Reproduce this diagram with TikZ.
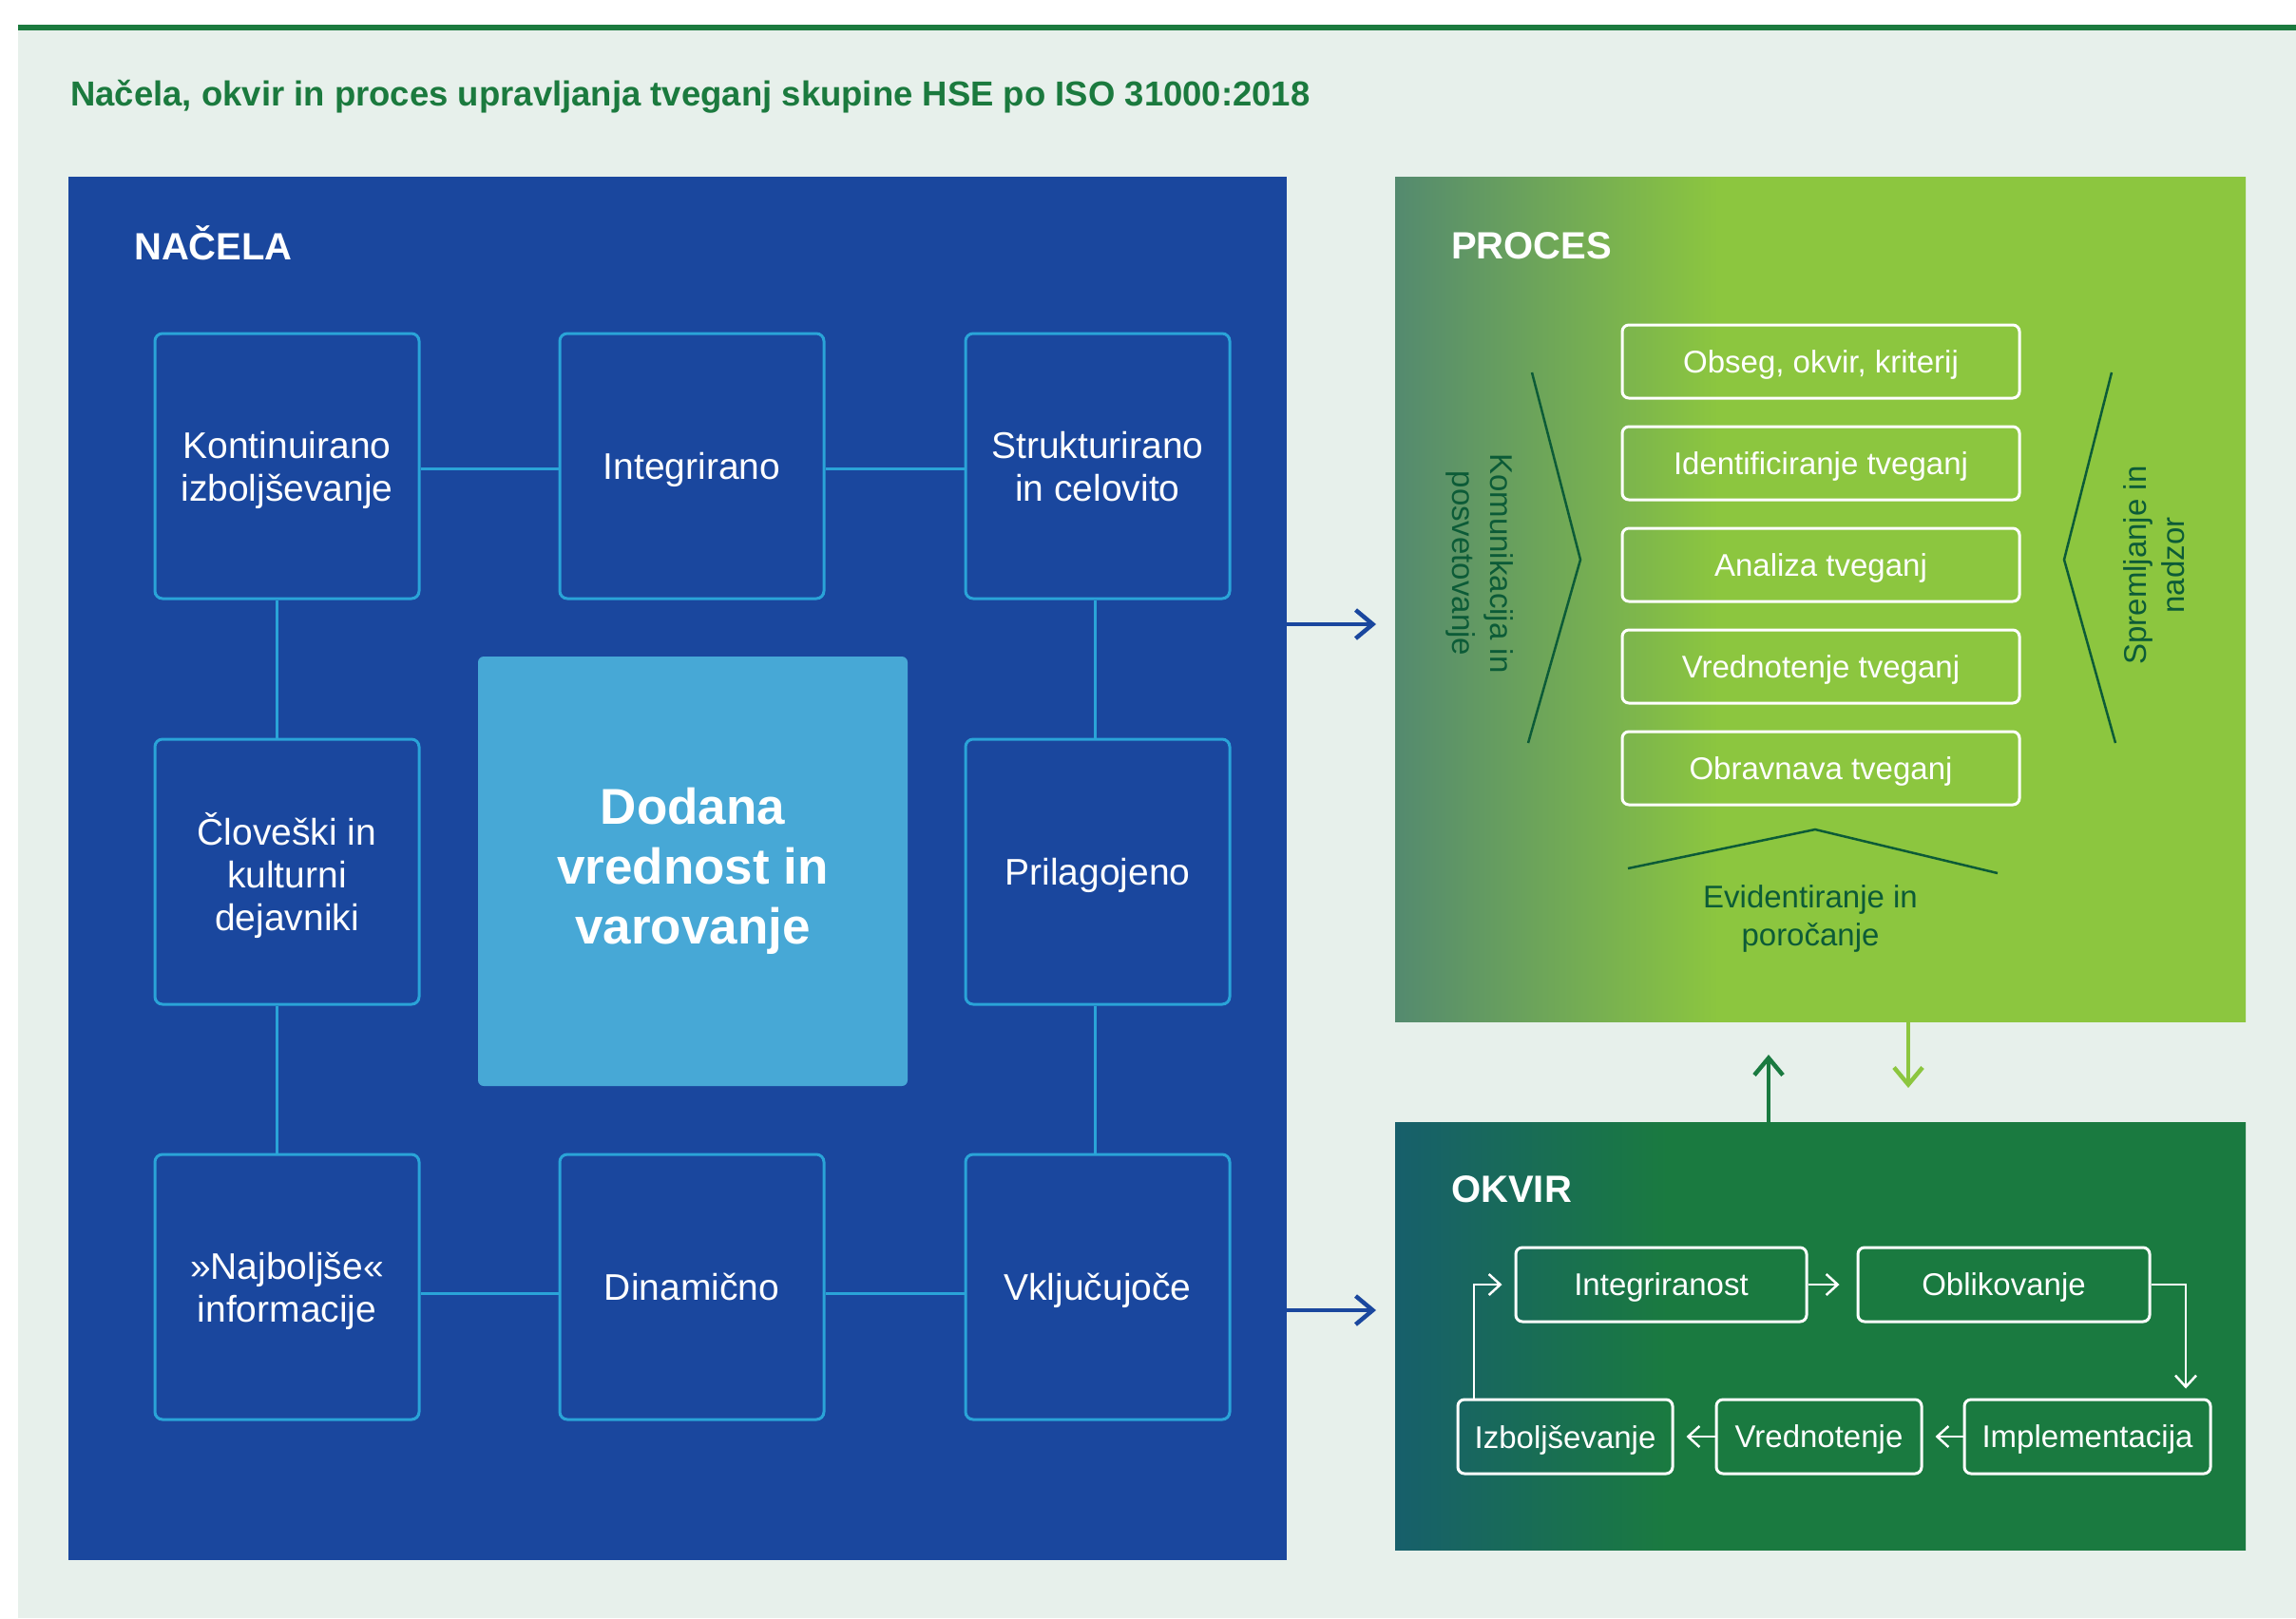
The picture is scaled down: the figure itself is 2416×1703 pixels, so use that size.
\documentclass[tikz,border=0pt]{standalone}
\usepackage{fontspec}
\setmainfont{Liberation Sans}
\usetikzlibrary{arrows.meta,positioning}
\definecolor{pagebg}{HTML}{E7F0EB}
\definecolor{hsegreen}{HTML}{1B7A3E}
\definecolor{nblue}{HTML}{1A479E}
\definecolor{ncyan}{HTML}{2AA4D8}
\definecolor{ncenter}{HTML}{47A8D6}
\definecolor{pgreyg}{HTML}{548A6F}
\definecolor{plime}{HTML}{8CC63F}
\definecolor{oteal}{HTML}{175F6B}
\definecolor{ogreen}{HTML}{1A7A40}
\definecolor{dkgreen}{HTML}{0C5B37}
\pgfdeclarehorizontalshading{procshade}{100bp}{color(0bp)=(pgreyg); color(25bp)=(pgreyg); color(44bp)=(plime); color(100bp)=(plime)}
\pgfdeclarehorizontalshading{okvshade}{100bp}{color(0bp)=(oteal); color(25bp)=(oteal); color(41bp)=(ogreen); color(100bp)=(ogreen)}

\begin{document}
\begin{tikzpicture}[x=1pt,y=-1pt,
  panel/.style={inner sep=0pt,outer sep=0pt},
  head/.style={anchor=base west,inner sep=0pt,text=white,font=\fontsize{40}{40}\selectfont\bfseries},
  nbox/.style={draw=ncyan,line width=3pt,rounded corners=8pt,minimum width=278pt,minimum height=279pt,align=center,text depth=0pt,text=white,font=\fontsize{39}{45}\selectfont},
  nlink/.style={draw=ncyan,line width=3pt},
  pbox/.style={draw=white,line width=3pt,rounded corners=7pt,minimum width=418pt,minimum height=77pt,text depth=0pt,text=white,font=\fontsize{33}{33}\selectfont},
  obox/.style={draw=white,line width=3pt,rounded corners=7pt,minimum height=78pt,inner sep=0pt,text depth=0pt,text=white,font=\fontsize{33}{33}\selectfont},
  olink/.style={draw=white,line width=2.5pt,-{Straight Barb[length=12pt,width=22pt]}},
  barr/.style={draw=nblue,line width=4.5pt,-{Straight Barb[length=18pt,width=30pt]}},
  garr/.style={line width=4.5pt,-{Straight Barb[length=18pt,width=30pt]}},
  chev/.style={draw=dkgreen,line width=2.5pt},
  side/.style={align=center,text=dkgreen,font=\fontsize{33}{40}\selectfont}
]
\useasboundingbox (0,0) rectangle (2416,1703);
\fill[white] (0,0) rectangle (2416,1703);
\fill[pagebg] (19,29) rectangle (2416,1703);
\draw[hsegreen,line width=6pt] (19,29) -- (2416,29);
\node[anchor=base west,inner sep=0pt,text=hsegreen,font=\fontsize{36.5}{37}\selectfont\bfseries] (title) at (74,111)
  {Načela, okvir in proces upravljanja tveganj skupine HSE po ISO 31000:2018};

% panels
\node[panel,fill=nblue,minimum width=1282pt,minimum height=1456pt] (nacela) at (713,914) {};
\node[panel,shade,shading=procshade,minimum width=895pt,minimum height=889pt] (proces) at (1915.5,630.5) {};
\node[panel,shade,shading=okvshade,minimum width=895pt,minimum height=450pt] (okvir) at (1915.5,1406) {};
\node[head] (tnacela) at (141,273) {NAČELA};
\node[head] (tproces) at (1527,272) {PROCES};
\node[head] (tokvir) at (1527,1265) {OKVIR};

% nacela
\node[nbox] (kont) at (302,490.5) {Kontinuirano\\izboljševanje};
\node[nbox,right=145pt of kont] (integ) {Integrirano};
\node[nbox,right=146pt of integ] (struk) {Strukturirano\\in celovito};
\node[nbox,below=145pt of kont] (clov) {Človeški in\\kulturni\\dejavniki};
\node[nbox,below=145pt of struk] (prilag) {Prilagojeno};
\node[nbox,below=155pt of clov] (najb) {»Najboljše«\\informacije};
\node[nbox,right=145pt of najb] (dinam) {Dinamično};
\node[nbox,below=155pt of prilag] (vklj) {Vključujoče};
\node[fill=ncenter,rounded corners=6pt,minimum width=452pt,minimum height=452pt,align=center,text=white,
  font=\fontsize{53}{63}\selectfont\bfseries] (dodana) at (729,917) {Dodana\\vrednost in\\varovanje};
\draw[nlink] ([yshift=-3pt]kont.east) -- ([yshift=-3pt]integ.west);
\draw[nlink] ([yshift=-3pt]integ.east) -- ([yshift=-3pt]struk.west);
\draw[nlink] ([yshift=-7pt]najb.east) -- ([yshift=-7pt]dinam.west);
\draw[nlink] ([yshift=-7pt]dinam.east) -- ([yshift=-7pt]vklj.west);
\draw[nlink] ([xshift=-11pt]kont.south) -- ([xshift=-11pt]clov.north);
\draw[nlink] ([xshift=-11pt]clov.south) -- ([xshift=-11pt]najb.north);
\draw[nlink] ([xshift=-3pt]struk.south) -- ([xshift=-3pt]prilag.north);
\draw[nlink] ([xshift=-3pt]prilag.south) -- ([xshift=-3pt]vklj.north);

% proces
\node[pbox] (obseg) at (1916,380.5) {Obseg, okvir, kriterij};
\node[pbox,below=27pt of obseg] (ident) {Identificiranje tveganj};
\node[pbox,below=27pt of ident] (anal) {Analiza tveganj};
\node[pbox,below=27pt of anal] (vredt) {Vrednotenje tveganj};
\node[pbox,below=27pt of vredt] (obrav) {Obravnava tveganj};
\draw[chev] (1612,392) -- (1663,589) -- (1608,782);
\draw[chev] (2222,392) -- (2172,589) -- (2226,782);
\draw[chev] (1713,914) -- (1910,873) -- (2102,919);
\node[side,rotate=-90] (komun) at (1557,593) {Komunikacija in\\posvetovanje};
\node[side,rotate=90] (sprem) at (2267,595) {Spremljanje in\\nadzor};
\node[side] (evid) at (1905,967) {Evidentiranje in\\poročanje};

% okvir
\node[obox,minimum width=306pt] (integr) at (1748,1352) {Integriranost};
\node[obox,minimum width=307pt,right=51pt of integr] (oblik) {Oblikovanje};
\node[obox,minimum width=259pt] (impl) at (2196.5,1512) {Implementacija};
\node[obox,minimum width=216pt,left=42pt of impl] (vred) {Vrednotenje};
\node[obox,minimum width=226pt,left=43pt of vred] (izbolj) {Izboljševanje};
\coordinate (odown) at (2300,0);
\coordinate (oup) at (1551,0);
\draw[olink,shorten >=18pt] (integr) -- (oblik);
\draw[olink,shorten >=10pt] (oblik.east) -| (impl.north -| odown);
\draw[olink,shorten >=13pt] (impl) -- (vred);
\draw[olink,shorten >=13pt] (vred) -- (izbolj);
\draw[olink,shorten >=13pt] (izbolj.north -| oup) |- (integr.west);

% between panels
\coordinate (arow1) at (0,657);
\coordinate (arow2) at (0,1379);
\coordinate (gup) at (1861,0);
\coordinate (gdn) at (2008,0);
\draw[barr,shorten >=20pt] (nacela.east |- arow1) -- (proces.west |- arow1);
\draw[barr,shorten >=20pt] (nacela.east |- arow2) -- (okvir.west |- arow2);
\draw[garr,draw=ogreen,shorten >=35pt] (okvir.north -| gup) -- (proces.south -| gup);
\draw[garr,draw=plime,shorten >=36pt] (proces.south -| gdn) -- (okvir.north -| gdn);
\end{tikzpicture}
\end{document}
